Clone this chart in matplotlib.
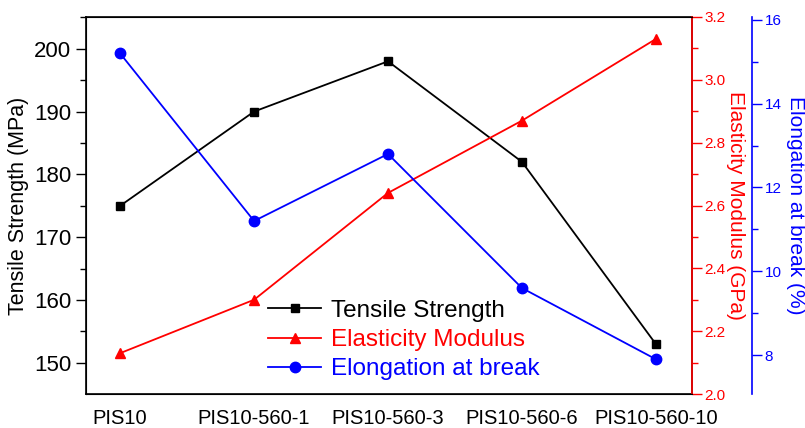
import matplotlib.pyplot as plt
from matplotlib.ticker import MultipleLocator

plt.rcParams['font.family'] = ['Liberation Sans', 'DejaVu Sans']

samples = ["PIS10", "PIS10-560-1", "PIS10-560-3", "PIS10-560-6", "PIS10-560-10"]
tensile = [175, 190, 198, 182, 153]          # MPa
modulus = [2.13, 2.30, 2.64, 2.87, 3.13]     # GPa
elongation = [15.2, 11.2, 12.8, 9.6, 7.9]    # %

x = list(range(len(samples)))

fig = plt.figure(figsize=(8.05, 4.28), dpi=100)
ax = fig.add_axes([86/805, 1-394/428, (692-86)/805, 377/428])
ax2 = ax.twinx()
ax3 = ax.twinx()

# tensile strength (left)
l1, = ax.plot(x, tensile, color='black', marker='s', ms=6, lw=1.3, label='Tensile Strength')
ax.set_ylim(145.05, 205.05)
ax.yaxis.set_major_locator(MultipleLocator(10))
ax.yaxis.set_minor_locator(MultipleLocator(5))
ax.set_ylabel('Tensile Strength (MPa)', fontsize=15.5, labelpad=4)
ax.tick_params(axis='y', which='major', length=7, width=1, labelsize=16, direction='out')
ax.tick_params(axis='y', which='minor', length=4, width=1, direction='out')
ax.set_xlim(-0.255, 4.27)
ax.set_xticks(x)
ax.set_xticklabels(samples, fontsize=14.5)
ax.tick_params(axis='x', length=0, pad=11)
for s in ax.spines.values():
    s.set_linewidth(1.2)

# elasticity modulus (right, red)
l2, = ax2.plot(x, modulus, color='red', marker='^', ms=7.5, lw=1.3, label='Elasticity Modulus')
ax2.set_ylim(2.0, 3.2)
ax2.yaxis.set_major_locator(MultipleLocator(0.2))
ax2.yaxis.set_minor_locator(MultipleLocator(0.1))
ax2.yaxis.set_major_formatter(plt.FormatStrFormatter('%.1f'))
ax2.spines['right'].set_color('red')
ax2.spines['right'].set_linewidth(1.2)
ax2.tick_params(axis='y', which='major', colors='red', length=7, width=1, labelsize=11, pad=2)
ax2.tick_params(axis='y', which='minor', colors='red', length=4, width=1)
ax2.set_ylabel('Elasticity Modulus (GPa)', color='red', fontsize=15, rotation=270, labelpad=14)

# elongation at break (far right, blue)
l3, = ax3.plot(x, elongation, color='blue', marker='o', ms=7.5, lw=1.3, label='Elongation at break')
ax3.set_ylim(7.07, 16.07)
ax3.yaxis.set_major_locator(MultipleLocator(2))
ax3.yaxis.set_minor_locator(MultipleLocator(1))
ax3.spines['right'].set_position(('axes', (752-86)/606))
ax3.spines['right'].set_color('blue')
ax3.spines['right'].set_linewidth(1.2)
for k in ['left', 'top', 'bottom']:
    ax3.spines[k].set_visible(False)
ax3.tick_params(axis='y', which='major', colors='blue', length=7, width=1, labelsize=11, pad=2)
ax3.tick_params(axis='y', which='minor', colors='blue', length=4, width=1)
ax3.set_ylabel('Elongation at break (%)', color='blue', fontsize=15, rotation=270, labelpad=17)

leg = fig.legend(handles=[l1, l2, l3], loc='center left',
                 bbox_to_anchor=(268/805, 1-340/428), frameon=False,
                 fontsize=17.5, handlelength=2.2, handletextpad=0.4,
                 labelspacing=0.3, borderpad=0, borderaxespad=0)
for t, c in zip(leg.get_texts(), ['black', 'red', 'blue']):
    t.set_color(c)

fig.savefig('out.png', dpi=100)
